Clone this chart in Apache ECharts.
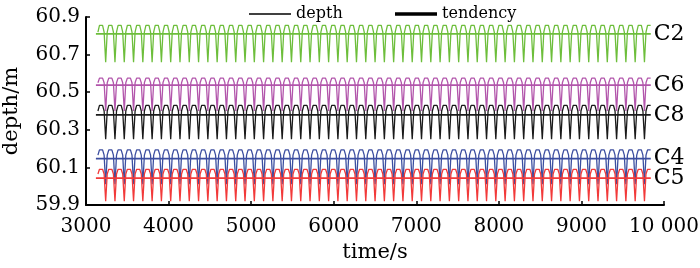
<!DOCTYPE html>
<html>
<head>
<meta charset="utf-8">
<script src="https://cdn.jsdelivr.net/npm/echarts@6/dist/echarts.min.js"></script>
<style>
  html, body { margin: 0; padding: 0; background: #fff; }
  #chart { width: 700px; height: 268px; }
</style>
</head>
<body>
<div id="chart"></div>
<script>
// sampling clock of the depth records (s)
var sampleStart = 3144.5
var sampleStep = 18.75

var xTicks = [3000, 4000, 5000, 6000, 7000, 8000, 9000, 10000]
var yTicks = [59.9, 60.1, 60.3, 60.5, 60.7, 60.9]

var gauges = ['C2', 'C6', 'C8', 'C4', 'C5']
var colors = ['#6dbe3b', '#b255ab', '#1a1a1a', '#3c4ea0', '#f23a3a']

// depth (m), one row = two wave cycles
var depthC2 = [
  60.82, 60.855, 60.865, 60.855, 60.82,

  60.66, 60.82, 60.855, 60.865, 60.855, 60.82, 60.66, 60.82, 60.855, 60.865, 60.855, 60.82,
  60.66, 60.82, 60.855, 60.865, 60.855, 60.82, 60.66, 60.82, 60.855, 60.865, 60.855, 60.82,
  60.66, 60.82, 60.855, 60.865, 60.855, 60.82, 60.66, 60.82, 60.855, 60.865, 60.855, 60.82,
  60.66, 60.82, 60.855, 60.865, 60.855, 60.82, 60.66, 60.82, 60.855, 60.865, 60.855, 60.82,
  60.66, 60.82, 60.855, 60.865, 60.855, 60.82, 60.66, 60.82, 60.855, 60.865, 60.855, 60.82,

  60.66, 60.82, 60.855, 60.865, 60.855, 60.82, 60.66, 60.82, 60.855, 60.865, 60.855, 60.82,
  60.66, 60.82, 60.855, 60.865, 60.855, 60.82, 60.66, 60.82, 60.855, 60.865, 60.855, 60.82,
  60.66, 60.82, 60.855, 60.865, 60.855, 60.82, 60.66, 60.82, 60.855, 60.865, 60.855, 60.82,
  60.66, 60.82, 60.855, 60.865, 60.855, 60.82, 60.66, 60.82, 60.855, 60.865, 60.855, 60.82,
  60.66, 60.82, 60.855, 60.865, 60.855, 60.82, 60.66, 60.82, 60.855, 60.865, 60.855, 60.82,

  60.66, 60.82, 60.855, 60.865, 60.855, 60.82, 60.66, 60.82, 60.855, 60.865, 60.855, 60.82,
  60.66, 60.82, 60.855, 60.865, 60.855, 60.82, 60.66, 60.82, 60.855, 60.865, 60.855, 60.82,
  60.66, 60.82, 60.855, 60.865, 60.855, 60.82, 60.66, 60.82, 60.855, 60.865, 60.855, 60.82,
  60.66, 60.82, 60.855, 60.865, 60.855, 60.82, 60.66, 60.82, 60.855, 60.865, 60.855, 60.82,
  60.66, 60.82, 60.855, 60.865, 60.855, 60.82, 60.66, 60.82, 60.855, 60.865, 60.855, 60.82,

  60.66, 60.82, 60.855, 60.865, 60.855, 60.82, 60.66, 60.82, 60.855, 60.865, 60.855, 60.82,
  60.66, 60.82, 60.855, 60.865, 60.855, 60.82, 60.66, 60.82, 60.855, 60.865, 60.855, 60.82,
  60.66, 60.82, 60.855, 60.865, 60.855, 60.82, 60.66, 60.82, 60.855, 60.865, 60.855, 60.82,
  60.66, 60.82, 60.855, 60.865, 60.855, 60.82, 60.66, 60.82, 60.855, 60.865, 60.855, 60.82,
  60.66, 60.82, 60.855, 60.865, 60.855, 60.82, 60.66, 60.82, 60.855, 60.865, 60.855, 60.82,

  60.66, 60.82, 60.855, 60.865, 60.855, 60.82, 60.66, 60.82, 60.855, 60.865, 60.855, 60.82,
  60.66, 60.82, 60.855, 60.865, 60.855, 60.82, 60.66, 60.82, 60.855, 60.865, 60.855, 60.82,
  60.66, 60.82, 60.855, 60.865, 60.855, 60.82, 60.66, 60.82, 60.855, 60.865, 60.855, 60.82,
  60.66, 60.82, 60.855, 60.865, 60.855, 60.82, 60.66, 60.82, 60.855, 60.865, 60.855, 60.82,
  60.66, 60.82, 60.855, 60.865, 60.855, 60.82, 60.66, 60.82, 60.855, 60.865, 60.855, 60.82,

  60.66, 60.82, 60.855, 60.865, 60.855, 60.82, 60.66, 60.82, 60.855, 60.865, 60.855, 60.82,
  60.66, 60.82, 60.855, 60.865, 60.855, 60.82, 60.66, 60.82, 60.855, 60.865, 60.855, 60.82,
  60.66, 60.82, 60.855, 60.865, 60.855, 60.82, 60.66, 60.82, 60.855, 60.865, 60.855, 60.82,
  60.66, 60.82, 60.855, 60.865, 60.855, 60.82, 60.66, 60.82, 60.855, 60.865, 60.855, 60.82,

  60.66, 60.82, 60.855, 60.865, 60.855
]
var depthC6 = [
  60.55, 60.575, 60.585, 60.575, 60.55,

  60.40, 60.55, 60.575, 60.585, 60.575, 60.55, 60.40, 60.55, 60.575, 60.585, 60.575, 60.55,
  60.40, 60.55, 60.575, 60.585, 60.575, 60.55, 60.40, 60.55, 60.575, 60.585, 60.575, 60.55,
  60.40, 60.55, 60.575, 60.585, 60.575, 60.55, 60.40, 60.55, 60.575, 60.585, 60.575, 60.55,
  60.40, 60.55, 60.575, 60.585, 60.575, 60.55, 60.40, 60.55, 60.575, 60.585, 60.575, 60.55,
  60.40, 60.55, 60.575, 60.585, 60.575, 60.55, 60.40, 60.55, 60.575, 60.585, 60.575, 60.55,

  60.40, 60.55, 60.575, 60.585, 60.575, 60.55, 60.40, 60.55, 60.575, 60.585, 60.575, 60.55,
  60.40, 60.55, 60.575, 60.585, 60.575, 60.55, 60.40, 60.55, 60.575, 60.585, 60.575, 60.55,
  60.40, 60.55, 60.575, 60.585, 60.575, 60.55, 60.40, 60.55, 60.575, 60.585, 60.575, 60.55,
  60.40, 60.55, 60.575, 60.585, 60.575, 60.55, 60.40, 60.55, 60.575, 60.585, 60.575, 60.55,
  60.40, 60.55, 60.575, 60.585, 60.575, 60.55, 60.40, 60.55, 60.575, 60.585, 60.575, 60.55,

  60.40, 60.55, 60.575, 60.585, 60.575, 60.55, 60.40, 60.55, 60.575, 60.585, 60.575, 60.55,
  60.40, 60.55, 60.575, 60.585, 60.575, 60.55, 60.40, 60.55, 60.575, 60.585, 60.575, 60.55,
  60.40, 60.55, 60.575, 60.585, 60.575, 60.55, 60.40, 60.55, 60.575, 60.585, 60.575, 60.55,
  60.40, 60.55, 60.575, 60.585, 60.575, 60.55, 60.40, 60.55, 60.575, 60.585, 60.575, 60.55,
  60.40, 60.55, 60.575, 60.585, 60.575, 60.55, 60.40, 60.55, 60.575, 60.585, 60.575, 60.55,

  60.40, 60.55, 60.575, 60.585, 60.575, 60.55, 60.40, 60.55, 60.575, 60.585, 60.575, 60.55,
  60.40, 60.55, 60.575, 60.585, 60.575, 60.55, 60.40, 60.55, 60.575, 60.585, 60.575, 60.55,
  60.40, 60.55, 60.575, 60.585, 60.575, 60.55, 60.40, 60.55, 60.575, 60.585, 60.575, 60.55,
  60.40, 60.55, 60.575, 60.585, 60.575, 60.55, 60.40, 60.55, 60.575, 60.585, 60.575, 60.55,
  60.40, 60.55, 60.575, 60.585, 60.575, 60.55, 60.40, 60.55, 60.575, 60.585, 60.575, 60.55,

  60.40, 60.55, 60.575, 60.585, 60.575, 60.55, 60.40, 60.55, 60.575, 60.585, 60.575, 60.55,
  60.40, 60.55, 60.575, 60.585, 60.575, 60.55, 60.40, 60.55, 60.575, 60.585, 60.575, 60.55,
  60.40, 60.55, 60.575, 60.585, 60.575, 60.55, 60.40, 60.55, 60.575, 60.585, 60.575, 60.55,
  60.40, 60.55, 60.575, 60.585, 60.575, 60.55, 60.40, 60.55, 60.575, 60.585, 60.575, 60.55,
  60.40, 60.55, 60.575, 60.585, 60.575, 60.55, 60.40, 60.55, 60.575, 60.585, 60.575, 60.55,

  60.40, 60.55, 60.575, 60.585, 60.575, 60.55, 60.40, 60.55, 60.575, 60.585, 60.575, 60.55,
  60.40, 60.55, 60.575, 60.585, 60.575, 60.55, 60.40, 60.55, 60.575, 60.585, 60.575, 60.55,
  60.40, 60.55, 60.575, 60.585, 60.575, 60.55, 60.40, 60.55, 60.575, 60.585, 60.575, 60.55,
  60.40, 60.55, 60.575, 60.585, 60.575, 60.55, 60.40, 60.55, 60.575, 60.585, 60.575, 60.55,

  60.40, 60.55, 60.575, 60.585, 60.575
]
var depthC8 = [
  60.40, 60.43, 60.44, 60.43, 60.40,

  60.25, 60.40, 60.43, 60.44, 60.43, 60.40, 60.25, 60.40, 60.43, 60.44, 60.43, 60.40,
  60.25, 60.40, 60.43, 60.44, 60.43, 60.40, 60.25, 60.40, 60.43, 60.44, 60.43, 60.40,
  60.25, 60.40, 60.43, 60.44, 60.43, 60.40, 60.25, 60.40, 60.43, 60.44, 60.43, 60.40,
  60.25, 60.40, 60.43, 60.44, 60.43, 60.40, 60.25, 60.40, 60.43, 60.44, 60.43, 60.40,
  60.25, 60.40, 60.43, 60.44, 60.43, 60.40, 60.25, 60.40, 60.43, 60.44, 60.43, 60.40,

  60.25, 60.40, 60.43, 60.44, 60.43, 60.40, 60.25, 60.40, 60.43, 60.44, 60.43, 60.40,
  60.25, 60.40, 60.43, 60.44, 60.43, 60.40, 60.25, 60.40, 60.43, 60.44, 60.43, 60.40,
  60.25, 60.40, 60.43, 60.44, 60.43, 60.40, 60.25, 60.40, 60.43, 60.44, 60.43, 60.40,
  60.25, 60.40, 60.43, 60.44, 60.43, 60.40, 60.25, 60.40, 60.43, 60.44, 60.43, 60.40,
  60.25, 60.40, 60.43, 60.44, 60.43, 60.40, 60.25, 60.40, 60.43, 60.44, 60.43, 60.40,

  60.25, 60.40, 60.43, 60.44, 60.43, 60.40, 60.25, 60.40, 60.43, 60.44, 60.43, 60.40,
  60.25, 60.40, 60.43, 60.44, 60.43, 60.40, 60.25, 60.40, 60.43, 60.44, 60.43, 60.40,
  60.25, 60.40, 60.43, 60.44, 60.43, 60.40, 60.25, 60.40, 60.43, 60.44, 60.43, 60.40,
  60.25, 60.40, 60.43, 60.44, 60.43, 60.40, 60.25, 60.40, 60.43, 60.44, 60.43, 60.40,
  60.25, 60.40, 60.43, 60.44, 60.43, 60.40, 60.25, 60.40, 60.43, 60.44, 60.43, 60.40,

  60.25, 60.40, 60.43, 60.44, 60.43, 60.40, 60.25, 60.40, 60.43, 60.44, 60.43, 60.40,
  60.25, 60.40, 60.43, 60.44, 60.43, 60.40, 60.25, 60.40, 60.43, 60.44, 60.43, 60.40,
  60.25, 60.40, 60.43, 60.44, 60.43, 60.40, 60.25, 60.40, 60.43, 60.44, 60.43, 60.40,
  60.25, 60.40, 60.43, 60.44, 60.43, 60.40, 60.25, 60.40, 60.43, 60.44, 60.43, 60.40,
  60.25, 60.40, 60.43, 60.44, 60.43, 60.40, 60.25, 60.40, 60.43, 60.44, 60.43, 60.40,

  60.25, 60.40, 60.43, 60.44, 60.43, 60.40, 60.25, 60.40, 60.43, 60.44, 60.43, 60.40,
  60.25, 60.40, 60.43, 60.44, 60.43, 60.40, 60.25, 60.40, 60.43, 60.44, 60.43, 60.40,
  60.25, 60.40, 60.43, 60.44, 60.43, 60.40, 60.25, 60.40, 60.43, 60.44, 60.43, 60.40,
  60.25, 60.40, 60.43, 60.44, 60.43, 60.40, 60.25, 60.40, 60.43, 60.44, 60.43, 60.40,
  60.25, 60.40, 60.43, 60.44, 60.43, 60.40, 60.25, 60.40, 60.43, 60.44, 60.43, 60.40,

  60.25, 60.40, 60.43, 60.44, 60.43, 60.40, 60.25, 60.40, 60.43, 60.44, 60.43, 60.40,
  60.25, 60.40, 60.43, 60.44, 60.43, 60.40, 60.25, 60.40, 60.43, 60.44, 60.43, 60.40,
  60.25, 60.40, 60.43, 60.44, 60.43, 60.40, 60.25, 60.40, 60.43, 60.44, 60.43, 60.40,
  60.25, 60.40, 60.43, 60.44, 60.43, 60.40, 60.25, 60.40, 60.43, 60.44, 60.43, 60.40,

  60.25, 60.40, 60.43, 60.44, 60.43
]
var depthC4 = [
  60.165, 60.193, 60.203, 60.193, 60.165,

  60.01, 60.165, 60.193, 60.203, 60.193, 60.165, 60.01, 60.165, 60.193, 60.203, 60.193, 60.165,
  60.01, 60.165, 60.193, 60.203, 60.193, 60.165, 60.01, 60.165, 60.193, 60.203, 60.193, 60.165,
  60.01, 60.165, 60.193, 60.203, 60.193, 60.165, 60.01, 60.165, 60.193, 60.203, 60.193, 60.165,
  60.01, 60.165, 60.193, 60.203, 60.193, 60.165, 60.01, 60.165, 60.193, 60.203, 60.193, 60.165,
  60.01, 60.165, 60.193, 60.203, 60.193, 60.165, 60.01, 60.165, 60.193, 60.203, 60.193, 60.165,

  60.01, 60.165, 60.193, 60.203, 60.193, 60.165, 60.01, 60.165, 60.193, 60.203, 60.193, 60.165,
  60.01, 60.165, 60.193, 60.203, 60.193, 60.165, 60.01, 60.165, 60.193, 60.203, 60.193, 60.165,
  60.01, 60.165, 60.193, 60.203, 60.193, 60.165, 60.01, 60.165, 60.193, 60.203, 60.193, 60.165,
  60.01, 60.165, 60.193, 60.203, 60.193, 60.165, 60.01, 60.165, 60.193, 60.203, 60.193, 60.165,
  60.01, 60.165, 60.193, 60.203, 60.193, 60.165, 60.01, 60.165, 60.193, 60.203, 60.193, 60.165,

  60.01, 60.165, 60.193, 60.203, 60.193, 60.165, 60.01, 60.165, 60.193, 60.203, 60.193, 60.165,
  60.01, 60.165, 60.193, 60.203, 60.193, 60.165, 60.01, 60.165, 60.193, 60.203, 60.193, 60.165,
  60.01, 60.165, 60.193, 60.203, 60.193, 60.165, 60.01, 60.165, 60.193, 60.203, 60.193, 60.165,
  60.01, 60.165, 60.193, 60.203, 60.193, 60.165, 60.01, 60.165, 60.193, 60.203, 60.193, 60.165,
  60.01, 60.165, 60.193, 60.203, 60.193, 60.165, 60.01, 60.165, 60.193, 60.203, 60.193, 60.165,

  60.01, 60.165, 60.193, 60.203, 60.193, 60.165, 60.01, 60.165, 60.193, 60.203, 60.193, 60.165,
  60.01, 60.165, 60.193, 60.203, 60.193, 60.165, 60.01, 60.165, 60.193, 60.203, 60.193, 60.165,
  60.01, 60.165, 60.193, 60.203, 60.193, 60.165, 60.01, 60.165, 60.193, 60.203, 60.193, 60.165,
  60.01, 60.165, 60.193, 60.203, 60.193, 60.165, 60.01, 60.165, 60.193, 60.203, 60.193, 60.165,
  60.01, 60.165, 60.193, 60.203, 60.193, 60.165, 60.01, 60.165, 60.193, 60.203, 60.193, 60.165,

  60.01, 60.165, 60.193, 60.203, 60.193, 60.165, 60.01, 60.165, 60.193, 60.203, 60.193, 60.165,
  60.01, 60.165, 60.193, 60.203, 60.193, 60.165, 60.01, 60.165, 60.193, 60.203, 60.193, 60.165,
  60.01, 60.165, 60.193, 60.203, 60.193, 60.165, 60.01, 60.165, 60.193, 60.203, 60.193, 60.165,
  60.01, 60.165, 60.193, 60.203, 60.193, 60.165, 60.01, 60.165, 60.193, 60.203, 60.193, 60.165,
  60.01, 60.165, 60.193, 60.203, 60.193, 60.165, 60.01, 60.165, 60.193, 60.203, 60.193, 60.165,

  60.01, 60.165, 60.193, 60.203, 60.193, 60.165, 60.01, 60.165, 60.193, 60.203, 60.193, 60.165,
  60.01, 60.165, 60.193, 60.203, 60.193, 60.165, 60.01, 60.165, 60.193, 60.203, 60.193, 60.165,
  60.01, 60.165, 60.193, 60.203, 60.193, 60.165, 60.01, 60.165, 60.193, 60.203, 60.193, 60.165,
  60.01, 60.165, 60.193, 60.203, 60.193, 60.165, 60.01, 60.165, 60.193, 60.203, 60.193, 60.165,

  60.01, 60.165, 60.193, 60.203, 60.193
]
var depthC5 = [
  60.065, 60.09, 60.10, 60.09, 60.065,

  59.92, 60.065, 60.09, 60.10, 60.09, 60.065, 59.92, 60.065, 60.09, 60.10, 60.09, 60.065,
  59.92, 60.065, 60.09, 60.10, 60.09, 60.065, 59.92, 60.065, 60.09, 60.10, 60.09, 60.065,
  59.92, 60.065, 60.09, 60.10, 60.09, 60.065, 59.92, 60.065, 60.09, 60.10, 60.09, 60.065,
  59.92, 60.065, 60.09, 60.10, 60.09, 60.065, 59.92, 60.065, 60.09, 60.10, 60.09, 60.065,
  59.92, 60.065, 60.09, 60.10, 60.09, 60.065, 59.92, 60.065, 60.09, 60.10, 60.09, 60.065,

  59.92, 60.065, 60.09, 60.10, 60.09, 60.065, 59.92, 60.065, 60.09, 60.10, 60.09, 60.065,
  59.92, 60.065, 60.09, 60.10, 60.09, 60.065, 59.92, 60.065, 60.09, 60.10, 60.09, 60.065,
  59.92, 60.065, 60.09, 60.10, 60.09, 60.065, 59.92, 60.065, 60.09, 60.10, 60.09, 60.065,
  59.92, 60.065, 60.09, 60.10, 60.09, 60.065, 59.92, 60.065, 60.09, 60.10, 60.09, 60.065,
  59.92, 60.065, 60.09, 60.10, 60.09, 60.065, 59.92, 60.065, 60.09, 60.10, 60.09, 60.065,

  59.92, 60.065, 60.09, 60.10, 60.09, 60.065, 59.92, 60.065, 60.09, 60.10, 60.09, 60.065,
  59.92, 60.065, 60.09, 60.10, 60.09, 60.065, 59.92, 60.065, 60.09, 60.10, 60.09, 60.065,
  59.92, 60.065, 60.09, 60.10, 60.09, 60.065, 59.92, 60.065, 60.09, 60.10, 60.09, 60.065,
  59.92, 60.065, 60.09, 60.10, 60.09, 60.065, 59.92, 60.065, 60.09, 60.10, 60.09, 60.065,
  59.92, 60.065, 60.09, 60.10, 60.09, 60.065, 59.92, 60.065, 60.09, 60.10, 60.09, 60.065,

  59.92, 60.065, 60.09, 60.10, 60.09, 60.065, 59.92, 60.065, 60.09, 60.10, 60.09, 60.065,
  59.92, 60.065, 60.09, 60.10, 60.09, 60.065, 59.92, 60.065, 60.09, 60.10, 60.09, 60.065,
  59.92, 60.065, 60.09, 60.10, 60.09, 60.065, 59.92, 60.065, 60.09, 60.10, 60.09, 60.065,
  59.92, 60.065, 60.09, 60.10, 60.09, 60.065, 59.92, 60.065, 60.09, 60.10, 60.09, 60.065,
  59.92, 60.065, 60.09, 60.10, 60.09, 60.065, 59.92, 60.065, 60.09, 60.10, 60.09, 60.065,

  59.92, 60.065, 60.09, 60.10, 60.09, 60.065, 59.92, 60.065, 60.09, 60.10, 60.09, 60.065,
  59.92, 60.065, 60.09, 60.10, 60.09, 60.065, 59.92, 60.065, 60.09, 60.10, 60.09, 60.065,
  59.92, 60.065, 60.09, 60.10, 60.09, 60.065, 59.92, 60.065, 60.09, 60.10, 60.09, 60.065,
  59.92, 60.065, 60.09, 60.10, 60.09, 60.065, 59.92, 60.065, 60.09, 60.10, 60.09, 60.065,
  59.92, 60.065, 60.09, 60.10, 60.09, 60.065, 59.92, 60.065, 60.09, 60.10, 60.09, 60.065,

  59.92, 60.065, 60.09, 60.10, 60.09, 60.065, 59.92, 60.065, 60.09, 60.10, 60.09, 60.065,
  59.92, 60.065, 60.09, 60.10, 60.09, 60.065, 59.92, 60.065, 60.09, 60.10, 60.09, 60.065,
  59.92, 60.065, 60.09, 60.10, 60.09, 60.065, 59.92, 60.065, 60.09, 60.10, 60.09, 60.065,
  59.92, 60.065, 60.09, 60.10, 60.09, 60.065, 59.92, 60.065, 60.09, 60.10, 60.09, 60.065,

  59.92, 60.065, 60.09, 60.10, 60.09
]

// mean depth (tendency) of each gauge, m
var tendency = [60.81, 60.538, 60.379, 60.147, 60.043]
var tendencySpan = [3120, 9840]

var depthList = [depthC2, depthC6, depthC8, depthC4, depthC5]
var font = 'DejaVu Serif'

function toPairs(vals) {
  return vals.map(function (v, i) {
    return [sampleStart + i * sampleStep, v]
  })
}

var series = []
gauges.forEach(function (name, k) {
  series.push({
    name: name + ' depth',
    type: 'line',
    data: toPairs(depthList[k]),
    symbol: 'none',
    silent: true,
    lineStyle: { color: colors[k], width: 1.3 },
    z: 2
  })
  series.push({
    name: name,
    type: 'line',
    data: [[tendencySpan[0], tendency[k]], [tendencySpan[1], tendency[k]]],
    symbol: 'none',
    silent: true,
    lineStyle: { color: colors[k], width: 1.8 },
    endLabel: {
      show: true,
      formatter: '{a}',
      distance: 3,
      color: '#000',
      fontFamily: font,
      fontSize: 22
    },
    z: 3
  })
})
// legend keys only
series.push({ name: 'depth', type: 'line', data: [], symbol: 'none', itemStyle: { color: '#000' } })
series.push({ name: 'tendency', type: 'line', data: [], symbol: 'none', itemStyle: { color: '#000' } })

var legendText = { fontFamily: font, fontSize: 16, color: '#000' }

var chart = echarts.init(document.getElementById('chart'))
chart.setOption({
  animation: false,
  backgroundColor: '#fff',
  grid: { left: 86, right: 36, top: 17, bottom: 63, outerBoundsMode: 'none' },
  legend: [{
    data: [{ name: 'depth', icon: 'rect' }],
    left: 244,
    top: 1,
    itemWidth: 42,
    itemHeight: 1.5,
    textStyle: legendText
  }, {
    data: [{ name: 'tendency', icon: 'rect' }],
    left: 390,
    top: 1,
    itemWidth: 42,
    itemHeight: 3.5,
    textStyle: legendText
  }],
  xAxis: {
    type: 'value',
    min: xTicks[0],
    max: xTicks[xTicks.length - 1],
    interval: 1000,
    name: 'time/s',
    nameLocation: 'middle',
    nameGap: 37,
    nameTextStyle: { fontFamily: font, fontSize: 21, color: '#000' },
    axisLine: { lineStyle: { color: '#000', width: 2 } },
    axisTick: { inside: true, length: 4, lineStyle: { color: '#000', width: 1.5 } },
    axisLabel: {
      margin: 12,
      fontFamily: font,
      fontSize: 20,
      color: '#000',
      formatter: function (v) { return v === 10000 ? '10 000' : String(v) }
    },
    splitLine: { show: false }
  },
  yAxis: {
    type: 'value',
    min: yTicks[0],
    max: yTicks[yTicks.length - 1],
    interval: 0.2,
    name: 'depth/m',
    nameLocation: 'middle',
    nameGap: 64,
    nameTextStyle: { fontFamily: font, fontSize: 21, color: '#000' },
    axisLine: { show: true, lineStyle: { color: '#000', width: 2 } },
    axisTick: { show: true, inside: true, length: 4, lineStyle: { color: '#000', width: 1.5 } },
    axisLabel: {
      margin: 6,
      fontFamily: font,
      fontSize: 20,
      color: '#000',
      formatter: function (v) { return v.toFixed(1) }
    },
    splitLine: { show: false }
  },
  series: series
})
</script>
</body>
</html>
